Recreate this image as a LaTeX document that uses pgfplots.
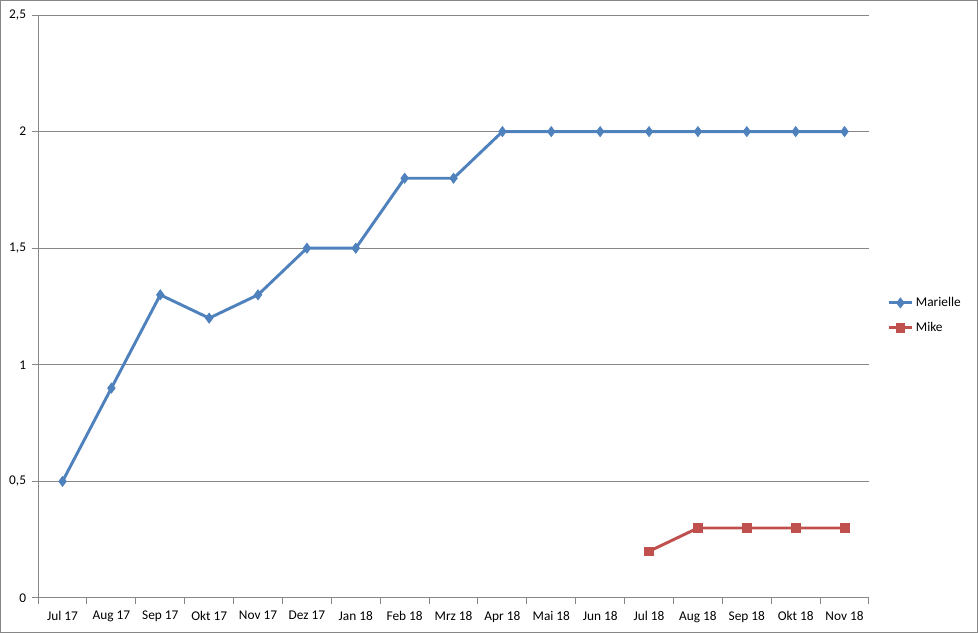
\documentclass[border=0pt]{standalone}
\usepackage{pgfplots}
\pgfplotsset{compat=1.18}
\usepackage{fontspec}
\setmainfont{Carlito}

\definecolor{serA}{HTML}{4F81BD}
\definecolor{serB}{HTML}{C0504D}
\definecolor{gridc}{HTML}{868686}

\begin{document}
\begin{tikzpicture}
\begin{axis}[
    scale only axis,
    width=623.25pt,
    height=437.25pt,
    xmin=-0.5, xmax=16.5,
    ymin=0, ymax=2.5,
    xtick={0,...,16},
    xticklabels={Jul 17,Aug 17,Sep 17,Okt 17,Nov 17,Dez 17,Jan 18,Feb 18,Mrz 18,Apr 18,Mai 18,Jun 18,Jul 18,Aug 18,Sep 18,Okt 18,Nov 18},
    minor xtick={-0.5,0.5,...,16.5},
    major x tick style={draw=none},
    minor x tick style={gridc, line width=0.75pt},
    ytick={0,0.5,...,2.5},
    y tick style={gridc, line width=0.75pt},
    tick align=outside,
    major tick length=4.5pt,
    minor tick length=4.5pt,
    axis x line*=bottom,
    axis y line*=left,
    axis line style={-, gridc, line width=0.75pt},
    ymajorgrids,
    grid style={gridc, line width=0.75pt},
    /pgf/number format/fixed,
    /pgf/number format/use comma,
    /pgf/number format/assume math mode=true,
    tick label style={font=\fontsize{10}{12}\selectfont, black},
    xticklabel style={yshift=-2pt},
    yticklabel style={xshift=-1pt},
    legend style={draw=none, at={(rel axis cs:1.022,0.485)}, anchor=west,
        font=\fontsize{10}{12}\selectfont, row sep=6pt,
        legend cell align=left, inner sep=0pt},
    clip=false,
]
\addplot[serA, line width=2.2pt, mark=diamond*, mark size=3.8pt, mark options={solid, line width=0.5pt}]
coordinates {
    (0,0.5) (1,0.9) (2,1.3) (3,1.2) (4,1.3) (5,1.5) (6,1.5) (7,1.8) (8,1.8)
    (9,2) (10,2) (11,2) (12,2) (13,2) (14,2) (15,2) (16,2)
};
\addlegendentry{Marielle}
\addplot[serB, line width=2.2pt, mark=square*, mark size=3.3pt, mark options={solid, line width=0.5pt}]
coordinates {
    (12,0.2) (13,0.3) (14,0.3) (15,0.3) (16,0.3)
};
\addlegendentry{Mike}
\draw[gridc, line width=0.75pt] ([xshift=-28.2pt,yshift=-25.9pt]rel axis cs:0,0)
    rectangle ([xshift=81.4pt,yshift=10.9pt]rel axis cs:1,1);
\end{axis}
\end{tikzpicture}
\end{document}
